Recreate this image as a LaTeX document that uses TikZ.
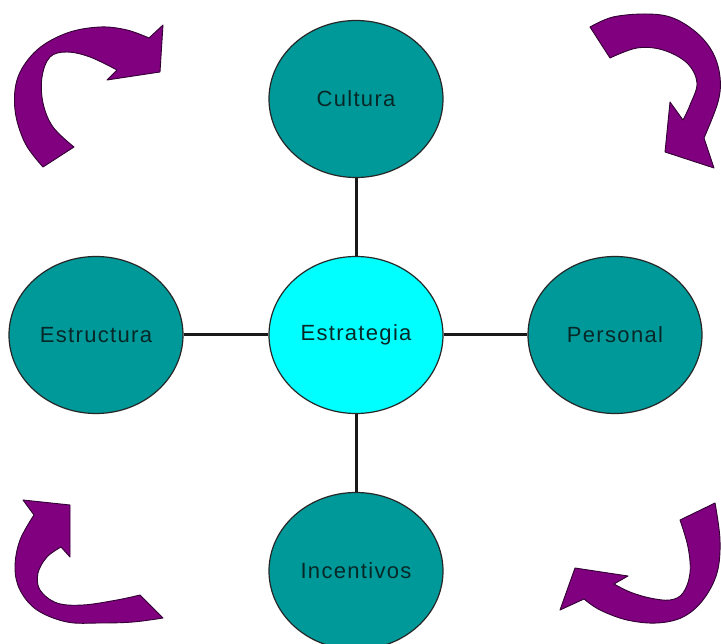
\documentclass[tikz,border=0pt]{standalone}
\usepackage{fontspec}
\setmainfont{Liberation Sans}[LetterSpace=6]
\usetikzlibrary{shapes.geometric}
\definecolor{tealfill}{RGB}{0,153,153}
\definecolor{cyanfill}{RGB}{0,255,255}
\definecolor{txt}{RGB}{8,40,40}
\definecolor{arrowfill}{RGB}{128,0,128}
\definecolor{arrowline}{RGB}{50,0,50}
\tikzset{
  bubble/.style={ellipse, draw=black!85, line width=1.2pt, fill=tealfill,
    minimum width=174pt, minimum height=157pt, inner sep=0pt,
    text=txt, font=\fontsize{22}{26}\selectfont},
  link/.style={line width=3pt, black!90},
  curvedarrow/.style={fill=arrowfill, draw=arrowline, line width=0.9pt, line join=round}
}
\begin{document}
\begin{tikzpicture}[x=1pt,y=-1pt]
\clip (0,0) rectangle (721,644);
\fill[white] (0,0) rectangle (721,644);

\node[bubble] (cultura) at (356,99) {Cultura};
\node[bubble, fill=cyanfill] (estrategia) at (356,335) {Estrategia};
\node[bubble] (estructura) at (96,335) {Estructura};
\node[bubble] (personal) at (615,335) {Personal};
\node[bubble] (incentivos) at (356,571) {Incentivos};

\draw[link] (cultura.south) -- (estrategia.north);
\draw[link] (estrategia.south) -- (incentivos.north);
\draw[link] (estructura.east) -- (estrategia.west);
\draw[link] (estrategia.east) -- (personal.west);

% top-left arrow
\filldraw[curvedarrow]
  plot[smooth, tension=0.6] coordinates {(43,167) (25,143) (15,110) (18,77) (37,50) (67,33) (100,27) (127,30) (149,38)}
  -- (163,25) -- (160,72) -- (107,80) -- (117,70)
  -- plot[smooth, tension=0.6] coordinates {(117,70) (90,57) (67,52) (50,57) (42,77) (43,103) (53,127) (74,147)}
  -- cycle;

% top-right arrow
\filldraw[curvedarrow]
  plot[smooth, tension=0.6] coordinates {(590,27) (613,17) (647,14) (673,18) (697,33) (713,53) (720,77) (718,102) (704,138)}
  -- (714,168) -- (665,152) -- (670,102) -- (683,120)
  -- plot[smooth, tension=0.6] coordinates {(683,120) (690,105) (697,83) (687,63) (663,50) (637,48) (610,58)}
  -- cycle;

% bottom-left arrow
\filldraw[curvedarrow]
  plot[smooth, tension=0.6] coordinates {(163,618) (133,622) (100,623) (67,622) (37,610) (20,590) (15,567) (20,540) (34,515)}
  -- (23,500) -- (70,505) -- (70,557) -- (61,547)
  -- plot[smooth, tension=0.6] coordinates {(61,547) (47,557) (38,573) (40,590) (57,603) (83,605) (117,600) (140,595)}
  -- cycle;

% bottom-right arrow
\filldraw[curvedarrow]
  plot[smooth, tension=0.6] coordinates {(715,503) (720,540) (717,573) (703,600) (683,617) (657,623) (627,620) (600,610) (584,599)}
  -- (560,610) -- (575,568) -- (628,576) -- (614,584)
  -- plot[smooth, tension=0.6] coordinates {(614,584) (630,592) (650,598) (670,600) (683,593) (690,573) (688,547) (680,520)}
  -- cycle;
\end{tikzpicture}
\end{document}
